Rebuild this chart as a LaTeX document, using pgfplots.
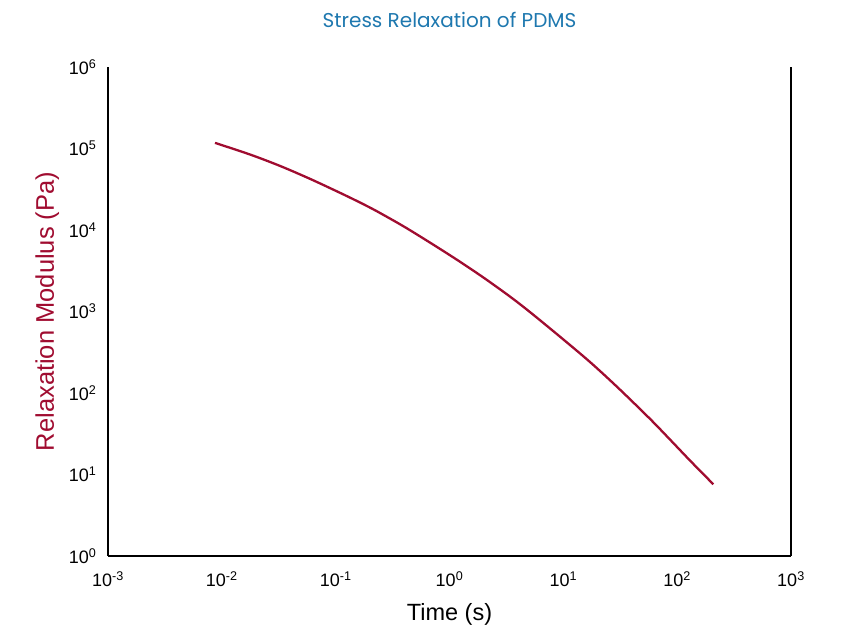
\documentclass[border=0pt]{standalone}
\usepackage{pgfplots}
\pgfplotsset{compat=1.18}
\usepackage{fontspec}
\setmainfont{Liberation Sans}
\newfontfamily\titlefont{Poppins}
\definecolor{curvered}{RGB}{160,12,48}
\definecolor{titleblue}{RGB}{30,120,175}
\begin{document}
\begin{tikzpicture}
\begin{loglogaxis}[
    scale only axis,
    width=683pt, height=489pt,
    xmin=1e-3, xmax=1e3,
    ymin=1, ymax=1e6,
    axis x line*=bottom,
    axis y line*=box,
    yticklabel pos=left,
    axis line style={line width=2.6pt},
    tick style={draw=none},
    major tick length=0pt, minor tick length=0pt,
    xtick={1e-3,1e-2,1e-1,1,1e1,1e2,1e3},
    xticklabels={10\textsuperscript{-3},10\textsuperscript{-2},10\textsuperscript{-1},10\textsuperscript{0},10\textsuperscript{1},10\textsuperscript{2},10\textsuperscript{3}},
    ytick={1,1e1,1e2,1e3,1e4,1e5,1e6},
    yticklabels={10\textsuperscript{0},10\textsuperscript{1},10\textsuperscript{2},10\textsuperscript{3},10\textsuperscript{4},10\textsuperscript{5},10\textsuperscript{6}},
    tick label style={font=\fontsize{18}{20}\selectfont},
    xticklabel style={yshift=-12pt},
    yticklabel style={xshift=-8pt},
    xlabel={Time (s)},
    xlabel style={font=\fontsize{23.5}{25}\selectfont, yshift=-10pt},
    ylabel={Relaxation Modulus (Pa)},
    ylabel style={font=\fontsize{25.5}{27}\selectfont, color=curvered, yshift=3pt},
    title={Stress Relaxation of PDMS},
    title style={font=\titlefont\fontsize{20}{22}\selectfont, color=titleblue, yshift=30pt},
    clip=false,
]
\addplot[color=curvered, line width=2.3pt, smooth, no markers] coordinates {
    (0.00871,1.172e5)(0.01768,8.44e4)(0.03243,6.114e4)(0.05951,4.244e4)
    (0.1092,2.859e4)(0.1636,2.174e4)(0.2293,1.703e4)(0.3928,1.114e4)
    (0.6742,7005)(1.157,4333)(1.982,2617)(3.401,1524)(5.098,982.9)
    (9.35,490.6)(17.16,239.9)(30.41,115.1)(57.74,48.14)
    (86.55,26.82)(129.7,14.83)(207.8,7.59)
};
\path (rel axis cs:0,0) ++(-108pt,-70pt) coordinate (bl);
\path (rel axis cs:1,1) ++(58pt,67pt) coordinate (tr);
\end{loglogaxis}
\pgfresetboundingbox
\path[use as bounding box] (bl) rectangle (tr);
\end{tikzpicture}
\end{document}
